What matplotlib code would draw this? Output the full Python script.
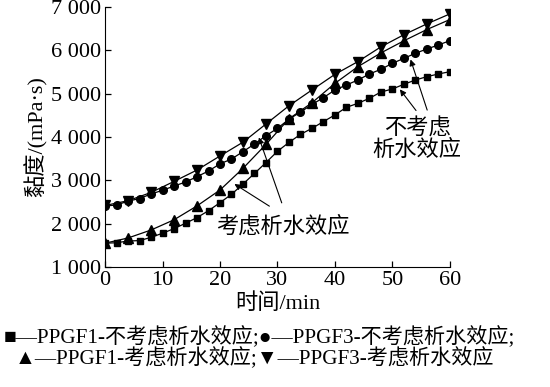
import numpy as np
import matplotlib
matplotlib.use('Agg')
import matplotlib.pyplot as plt

plt.rcParams['font.family'] = ['Liberation Serif', 'Noto Sans CJK SC', 'DejaVu Sans']
plt.rcParams['font.size'] = 16

# time (min)
t2 = np.arange(0, 61, 2)
t4 = np.arange(0, 61, 4)

# PPGF1, no bleeding effect (squares)
ppgf1_no = [1550, 1560, 1600, 1610, 1685, 1780, 1885, 2010, 2140, 2300, 2485,
            2677, 2915, 3160, 3410, 3670, 3875, 4060, 4200, 4355, 4510,
            4685, 4777, 4893, 5038, 5108, 5216, 5315, 5392, 5454, 5507]
# PPGF3, no bleeding effect (circles)
ppgf3_no = [2408, 2431, 2520, 2580, 2685, 2770, 2869, 2960, 3085, 3215, 3380,
            3492, 3662, 3838, 4030, 4200, 4410, 4575, 4750, 4908, 5085,
            5200, 5315, 5454, 5562, 5700, 5815, 5931, 6031, 6123, 6223]
# PPGF1, with bleeding effect (up triangles)
ppgf1_yes = [1550, 1670, 1854, 2090, 2410, 2777, 3277, 3830, 4420, 4790, 5238,
             5623, 5940, 6220, 6480, 6710]
# PPGF3, with bleeding effect (down triangles)
ppgf3_yes = [2420, 2530, 2720, 2975, 3238, 3562, 3880, 4300, 4720, 5085, 5446,
             5740, 6080, 6360, 6610, 6840]

yticks = [1000, 2000, 3000, 4000, 5000, 6000, 7000]
ytick_labels = ['1 000', '2 000', '3 000', '4 000', '5 000', '6 000', '7 000']
xticks = [0, 10, 20, 30, 40, 50, 60]

fig = plt.figure(figsize=(5.5, 3.87), dpi=100)
ax = fig.add_axes([0.191, 0.310, 0.627, 0.672])

ax.plot(t2, ppgf1_no, 'k-', marker='s', ms=5, lw=0.9)
ax.plot(t2, ppgf3_no, 'k-', marker='o', ms=5.5, lw=0.9)
ax.plot(t4, ppgf1_yes, 'k-', marker='^', ms=6.5, lw=0.9)
ax.plot(t4, ppgf3_yes, 'k-', marker='v', ms=6.5, lw=0.9)

ax.set_xlim(0, 60)
ax.set_ylim(1000, 7000)
ax.set_xticks(xticks)
ax.set_yticks(yticks)
ax.set_yticklabels(ytick_labels)
ax.tick_params(direction='in', length=4, width=0.9, pad=3)
ax.spines['top'].set_visible(False)
ax.spines['right'].set_visible(False)
ax.set_xlabel('时间/min', labelpad=2)
ax.set_ylabel('黏度/(mPa·s)', labelpad=2)

# annotations
arr = dict(arrowstyle='-|>', color='k', lw=0.8, mutation_scale=9)
ax.text(54.3, 3930, '不考虑\n析水效应', ha='center', va='center', linespacing=1.0)
ax.annotate('', xy=(51.0, 5150), xytext=(54.4, 4560), arrowprops=arr)
ax.annotate('', xy=(53.0, 5850), xytext=(56.2, 4560), arrowprops=arr)
ax.text(30.9, 1920, '考虑析水效应', ha='center', va='center')
ax.annotate('', xy=(22.1, 2950), xytext=(29.0, 2370), arrowprops=arr)
ax.annotate('', xy=(26.6, 4050), xytext=(30.9, 2420), arrowprops=arr)

fig.text(0.472, 0.128, '■—PPGF1-不考虑析水效应;●—PPGF3-不考虑析水效应;',
         ha='center', va='center', fontsize=15.2)
fig.text(0.463, 0.074, '▲—PPGF1-考虑析水效应;▼—PPGF3-考虑析水效应',
         ha='center', va='center', fontsize=15.2)

fig.savefig('out.png', dpi=100)
